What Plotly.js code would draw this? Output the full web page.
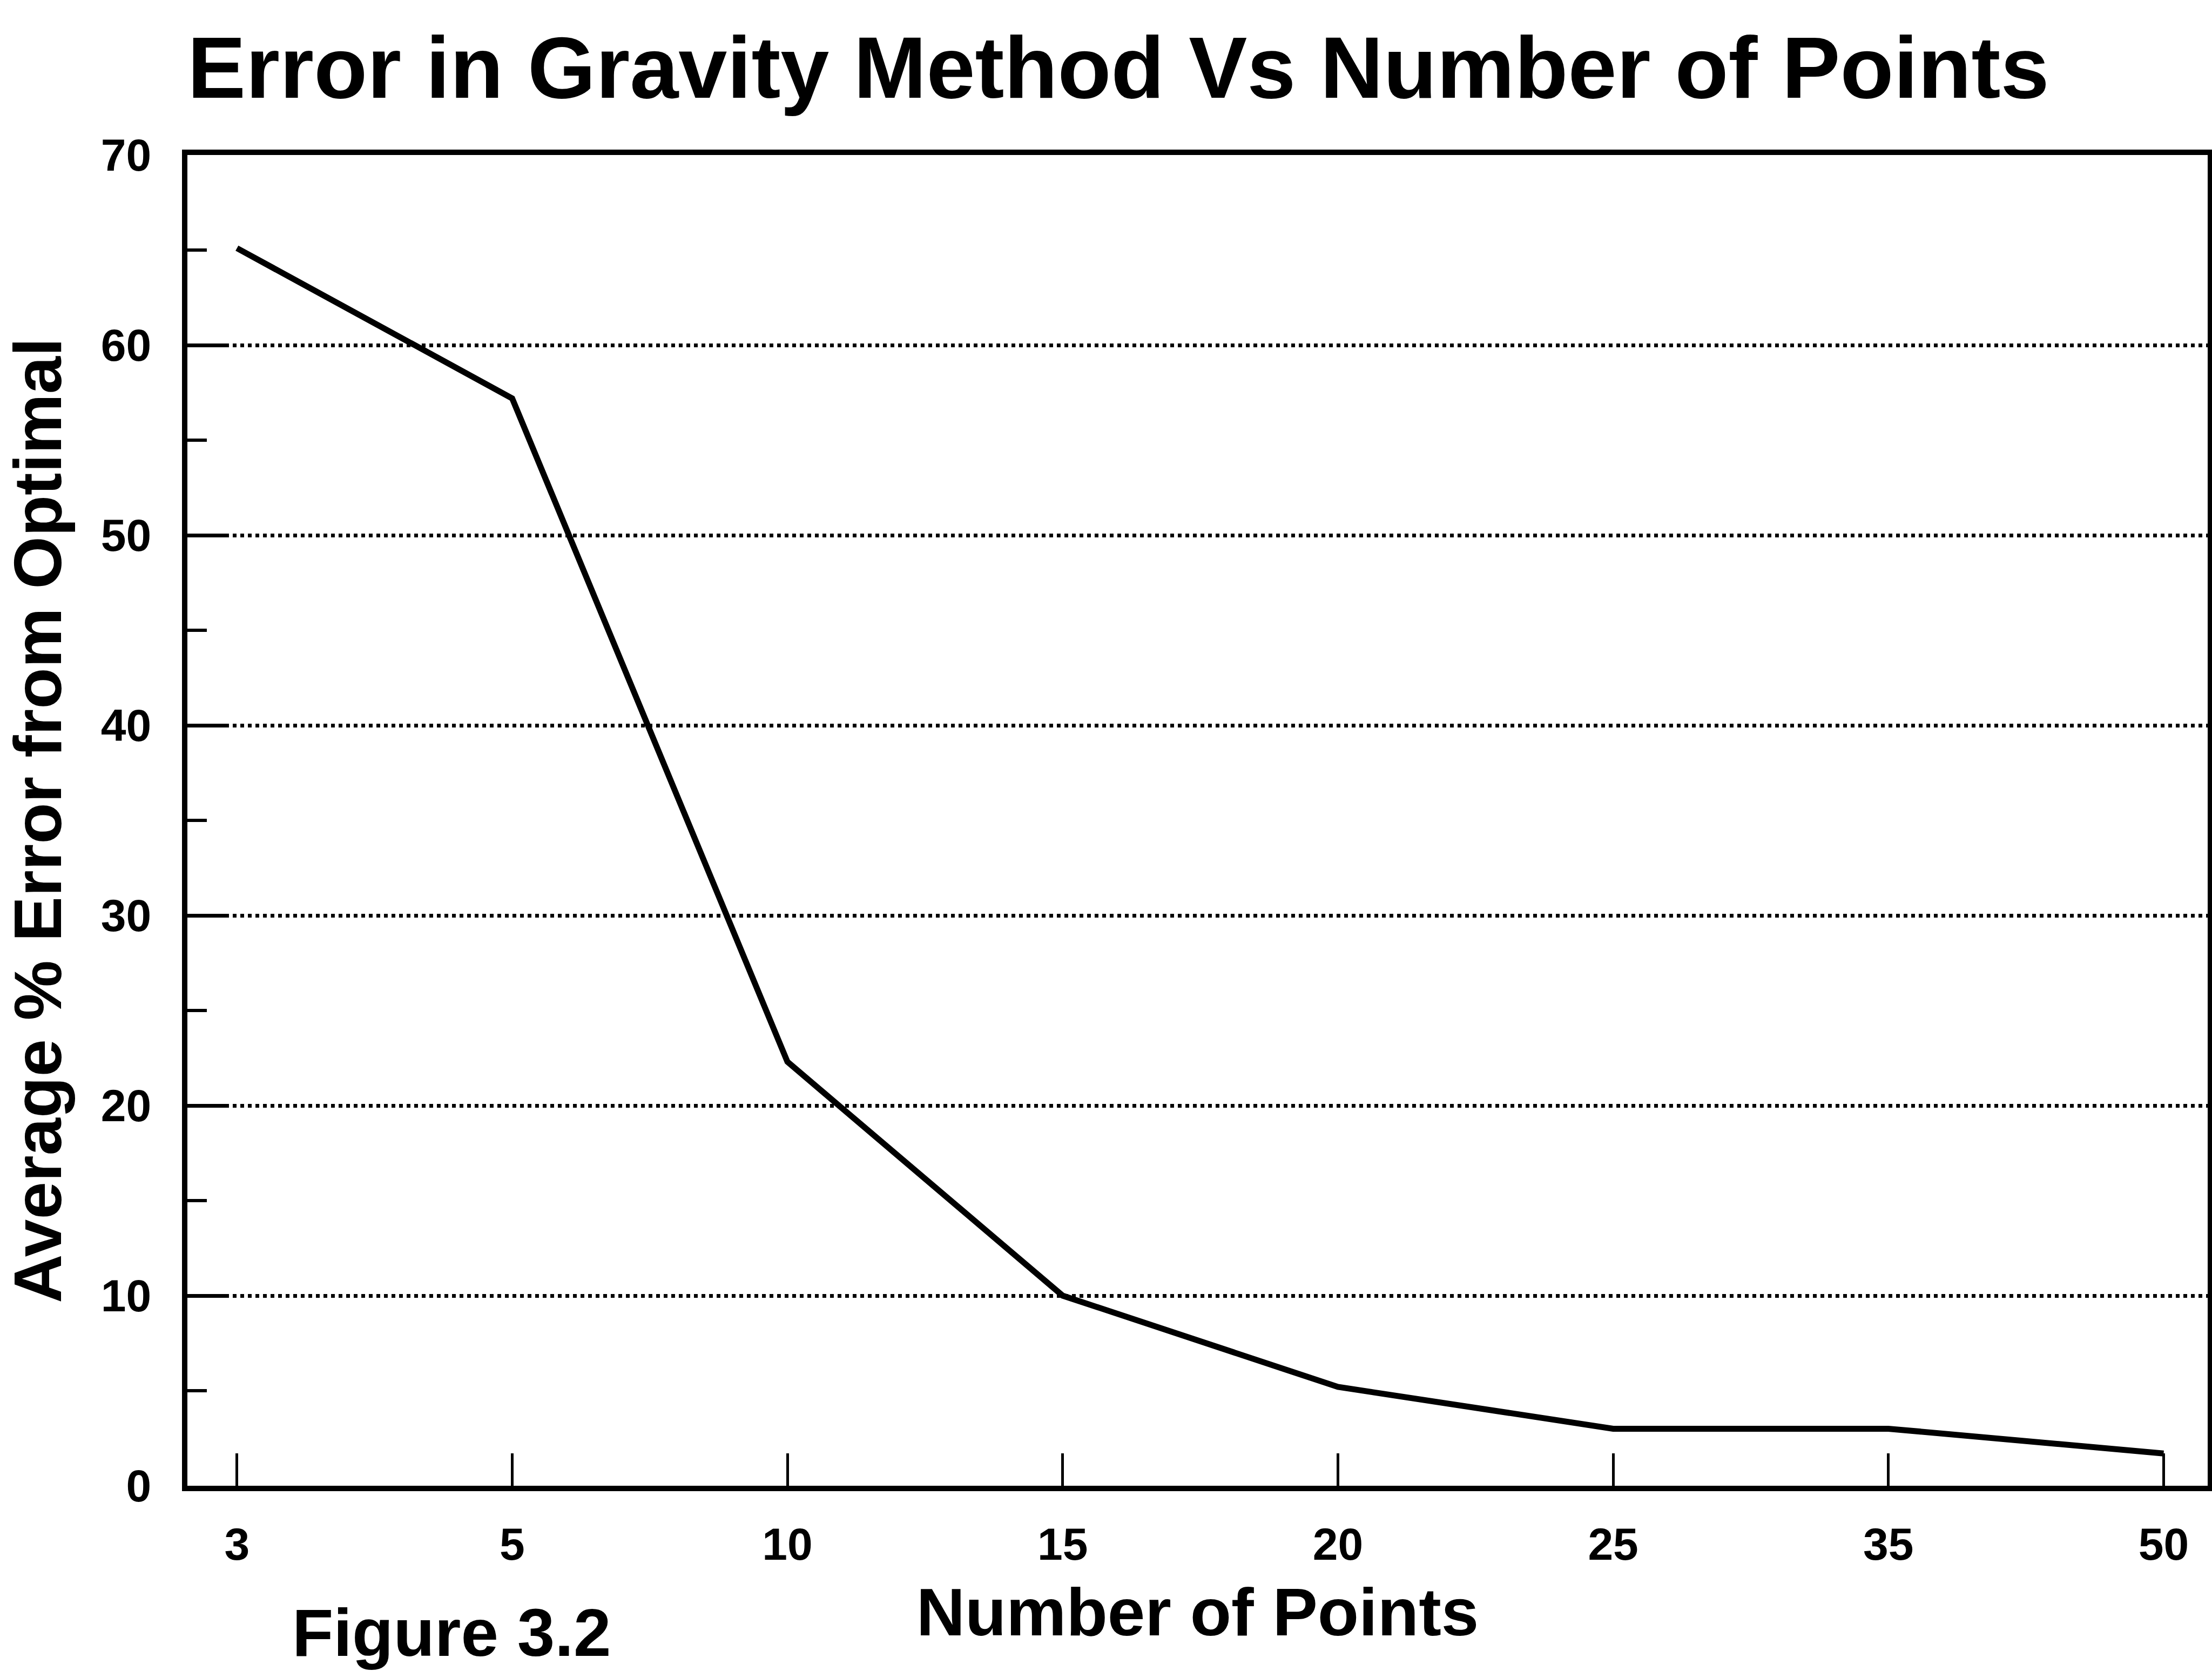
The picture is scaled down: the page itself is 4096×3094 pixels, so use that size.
<!DOCTYPE html>
<html>
<head>
<meta charset="utf-8">
<script src="https://cdn.plot.ly/plotly-3.0.1.min.js"></script>
<style>html,body{margin:0;padding:0;background:#fff;}#chart{width:4096px;height:3094px;}</style>
</head>
<body>
<div id="chart"></div>
<script>
const numberOfPoints = ['3', '5', '10', '15', '20', '25', '35', '50'];
const avgErrorPct = [65.1, 57.2, 22.3, 10.0, 5.2, 3.0, 3.0, 1.7];
const yTickVals = [0, 10, 20, 30, 40, 50, 60, 70];
const titleText = 'Error in Gravity Method Vs Number of Points';
const xTitleText = 'Number of Points';
const yTitleText = 'Average % Error from Optimal';
const figureLabel = 'Figure 3.2';

const FONT = 'Liberation Sans, Arial, Helvetica, sans-serif';

const trace = {
  x: numberOfPoints,
  y: avgErrorPct,
  type: 'scatter',
  mode: 'lines',
  line: {color: '#000', width: 11},
  showlegend: false,
  hoverinfo: 'skip'
};

const layout = {
  width: 4096,
  height: 3094,
  paper_bgcolor: '#fff',
  plot_bgcolor: '#fff',
  margin: {l: 347, r: 8, t: 287, b: 343},
  font: {family: FONT, color: '#000'},
  title: {
    text: '<b>' + titleText + '</b>',
    font: {family: FONT, size: 162, color: '#000'},
    xref: 'container', yref: 'container',
    x: 347 / 4096, xanchor: 'left',
    y: 1 - 124 / 3094, yanchor: 'middle'
  },
  xaxis: {
    type: 'category',
    range: [-0.18, 7.16],
    showgrid: false,
    zeroline: false,
    showline: true,
    linecolor: '#000',
    linewidth: 10,
    mirror: true,
    ticks: 'inside',
    ticklen: 60,
    tickwidth: 5,
    tickcolor: '#000',
    ticklabelstandoff: 26,
    tickfont: {family: FONT, size: 84, color: '#000', weight: 'bold'},
    title: {
      text: '<b>' + xTitleText + '</b>',
      font: {family: FONT, size: 125, color: '#000'},
      standoff: 40
    }
  },
  yaxis: {
    range: [0, 70],
    tickvals: yTickVals,
    showgrid: true,
    gridcolor: '#000',
    gridwidth: 7,
    griddash: '7px,7px',
    zeroline: false,
    showline: true,
    linecolor: '#000',
    linewidth: 10,
    mirror: true,
    ticks: 'inside',
    ticklen: 70,
    tickwidth: 7,
    tickcolor: '#000',
    ticklabelstandoff: 40,
    tickfont: {family: FONT, size: 84, color: '#000', weight: 'bold'},
    minor: {
      dtick: 5,
      tick0: 5,
      ticks: 'inside',
      ticklen: 36,
      tickwidth: 6,
      tickcolor: '#000',
      showgrid: false
    },
    title: {
      text: '<b>' + yTitleText + '</b>',
      font: {family: FONT, size: 125, color: '#000'},
      standoff: 35
    }
  },
  annotations: [{
    text: '<b>' + figureLabel + '</b>',
    xref: 'paper', yref: 'paper',
    x: (836 - 347) / (4088 - 347), xanchor: 'center',
    y: -(3022 - 2751) / (2751 - 287), yanchor: 'middle',
    showarrow: false,
    font: {family: FONT, size: 125, color: '#000'}
  }]
};

Plotly.newPlot('chart', [trace], layout, {staticPlot: true, displayModeBar: false});
</script>
</body>
</html>
